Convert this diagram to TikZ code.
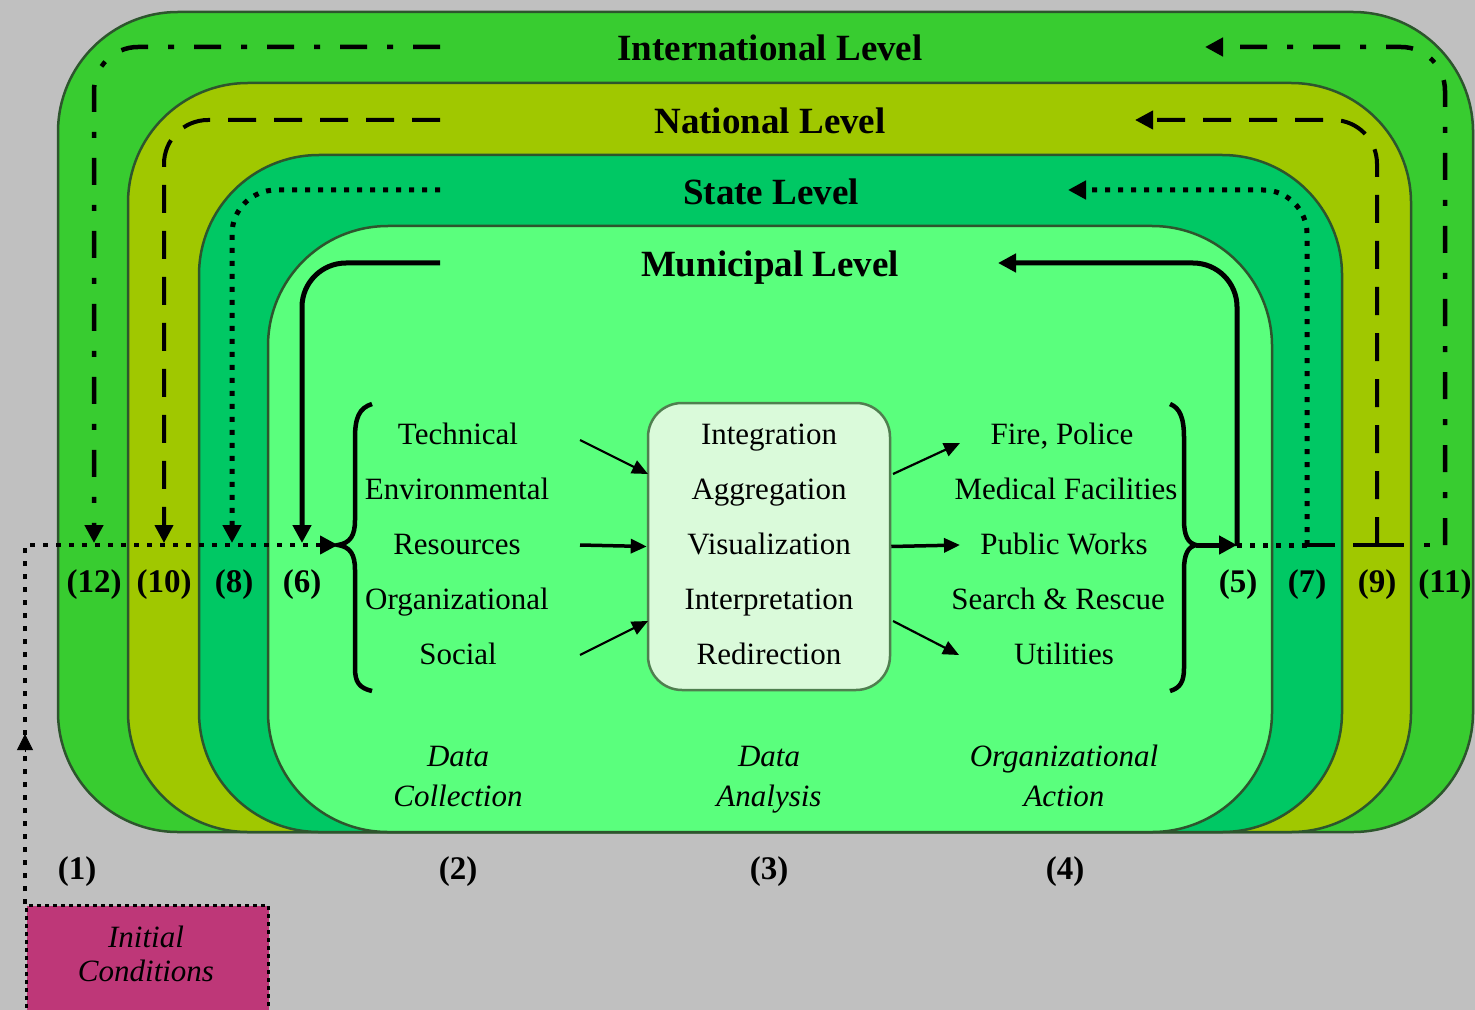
\documentclass[tikz,border=0pt]{standalone}
\usepackage{fontspec}
\setmainfont{Liberation Serif}
\usetikzlibrary{arrows.meta}
\definecolor{bg}{HTML}{C0C0C0}
\definecolor{intl}{HTML}{38CC30}
\definecolor{natl}{HTML}{A0C800}
\definecolor{stat}{HTML}{00C864}
\definecolor{muni}{HTML}{5AFF7D}
\definecolor{edgec}{HTML}{2D552D}
\definecolor{core}{HTML}{DAFADA}
\definecolor{coreedge}{HTML}{4F7F4F}
\definecolor{initc}{HTML}{BE3778}
\begin{document}
\begin{tikzpicture}[x=0.5pt,y=-0.5pt,
  level/.style={draw=edgec,line width=1.25pt,rounded corners=60pt},
  evenbox/.style={inner sep=0pt,text height=1.05em,text depth=0.1em},
  lvltext/.style={evenbox,font=\fontsize{18.5}{20}\selectfont\bfseries},
  item/.style={evenbox,font=\fontsize{15.5}{17}\selectfont},
  stage/.style={evenbox,font=\fontsize{15.5}{17}\selectfont\itshape},
  num/.style={evenbox,font=\fontsize{16.5}{18}\selectfont\bfseries},
  bigtip/.style={-{Triangle[length=9pt,width=9pt]}},
  smalltip/.style={-{Triangle[length=8pt,width=7pt]}},
  intline/.style={line width=2.25pt,dash pattern=on 13.5pt off 10pt on 3pt off 10pt},
  natline/.style={line width=2pt,dash pattern=on 14pt off 9pt},
  statline/.style={line width=2.5pt,dash pattern=on 2.5pt off 4pt},
  muniline/.style={line width=2.5pt},
  bracestyle/.style={line width=2.25pt},
  thinarrow/.style={line width=1.1pt,smalltip},
  midarrow/.style={line width=1.75pt,smalltip},
  loopcorner/.style={rounded corners=22pt}
]
\useasboundingbox (0,0) rectangle (1475,1010);
\fill[bg] (0,0) rectangle (1475,1010);

% nested levels
\filldraw[level,fill=intl] (58,12) rectangle (1473,832);
\filldraw[level,fill=natl] (128,83) rectangle (1411,832);
\filldraw[level,fill=stat] (199,155) rectangle (1342,832);
\filldraw[level,fill=muni] (268,226) rectangle (1272,832);

% level titles
\node[lvltext] (tInt) at (770,51) {International Level};
\node[lvltext] (tNat) at (770,124) {National Level};
\node[lvltext] (tSta) at (771,195) {State Level};
\node[lvltext] (tMun) at (770,267) {Municipal Level};

% core box
\node[draw=coreedge,line width=1.25pt,fill=core,rounded corners=17pt,
      minimum width=121pt,minimum height=143.5pt,inner sep=0pt] (core) at (769,546.5) {};
\node[item] (iInt) at (769,435) {Integration};
\node[item] (iAgg) at (769,490) {Aggregation};
\node[item] (iVis) at (769,545) {Visualization};
\node[item] (iInp) at (769,600) {Interpretation};
\node[item] (iRed) at (769,655) {Redirection};

% data collection items
\node[item] (cTec) at (458,435) {Technical};
\node[item] (cEnv) at (457,490) {Environmental};
\node[item] (cRes) at (457,545) {Resources};
\node[item] (cOrg) at (457,600) {Organizational};
\node[item] (cSoc) at (458,655) {Social};

% organizational action items
\node[item] (aFir) at (1062,435) {Fire, Police};
\node[item] (aMed) at (1066,490) {Medical Facilities};
\node[item] (aPub) at (1064,545) {Public Works};
\node[item] (aSea) at (1058,600) {Search \& Rescue};
\node[item] (aUti) at (1064,655) {Utilities};

% arrows into and out of core
\coordinate (inA) at (648,474);
\coordinate (inC) at (648,621);
\coordinate (outA) at (893,474);
\coordinate (outC) at (893,621);
\draw[thinarrow] (580,440) -- (inA);
\draw[midarrow] (580,545) -- (core.west);
\draw[thinarrow] (580,655) -- (inC);
\draw[thinarrow] (outA) -- (960,443);
\draw[midarrow] (core.east) -- (960,545);
\draw[thinarrow] (outC) -- (959,655);

% braces
\coordinate (lbTip) at (338,545);
\coordinate (rbTip) at (1196,545);
\draw[bracestyle] (372,404) .. controls (359,408) and (355,418) .. (355,438) -- (355,520)
  .. controls (355,536) and (350,543) .. (lbTip)
  .. controls (350,547) and (355,554) .. (355,570) -- (355,668)
  .. controls (355,682) and (359,688) .. (372,691);
\draw[bracestyle] (1170,404) .. controls (1180,408) and (1184,418) .. (1184,438) -- (1184,520)
  .. controls (1184,536) and (1188,543) .. (rbTip)
  .. controls (1188,547) and (1184,554) .. (1184,570) -- (1184,668)
  .. controls (1184,682) and (1180,688) .. (1170,691);

% stage labels
\node[stage] (sCol1) at (458,757) {Data};
\node[stage] (sCol2) at (458,797) {Collection};
\node[stage] (sAna1) at (769,757) {Data};
\node[stage] (sAna2) at (769,797) {Analysis};
\node[stage] (sAct1) at (1064,757) {Organizational};
\node[stage] (sAct2) at (1064,797) {Action};

% numbers
\node[num] (n1) at (77,870) {(1)};
\node[num] (n2) at (458,870) {(2)};
\node[num] (n3) at (769,870) {(3)};
\node[num] (n4) at (1065,870) {(4)};
\node[num] (n12) at (94,583) {(12)};
\node[num] (n10) at (164,583) {(10)};
\node[num] (n8) at (234,583) {(8)};
\node[num] (n6) at (302,583) {(6)};
\node[num] (n5) at (1238,583) {(5)};
\node[num] (n7) at (1307,583) {(7)};
\node[num] (n9) at (1377,583) {(9)};
\node[num] (n11) at (1445,583) {(11)};

% initial conditions
\node[draw,line width=1.5pt,dash pattern=on 2pt off 2pt,fill=initc,minimum width=121pt,
      minimum height=57pt,inner sep=0pt,anchor=north west] (init) at (25,904) {};
\node[stage] (initT1) at (146,938) {Initial};
\node[stage] (initT2) at (146,972) {Conditions};
\coordinate (corner) at (25,545);
\draw[line width=2pt,dash pattern=on 2.5pt off 4pt,bigtip] (init.north west) -- (corner) -- (lbTip);
\draw[-{Triangle[length=8pt,width=8pt]}] (25,752) -- (25,734);

% feedback loops, left side
\draw[intline,loopcorner,bigtip] (440,47) -- (94,47) -- (94,543);
\draw[natline,loopcorner,bigtip] (440,120) -- (164,120) -- (164,543);
\draw[statline,loopcorner,bigtip] (440,190) -- (232,190) -- (232,543);
\draw[muniline,loopcorner,bigtip] (440,263) -- (302,263) -- (302,543);

% feedback loops, right side
\coordinate (r5) at (1237,545);
\coordinate (r7) at (1307,545);
\coordinate (r9) at (1377,545);
\coordinate (r11) at (1445,545);
\draw[muniline,bigtip] (rbTip) -- (r5);
\draw[statline] (r5) -- (r7);
\draw[natline] (r7) -- (r9);
\draw[intline] (r9) -- (r11);
\draw[muniline,loopcorner,bigtip] (1237,546) -- (1237,263) -- (998,263);
\draw[statline,loopcorner,bigtip] (r7) -- (1307,190) -- (1068,190);
\draw[natline,loopcorner,bigtip] (r9) -- (1377,120) -- (1135,120);
\draw[intline,loopcorner,bigtip] (r11) -- (1445,47) -- (1205,47);
\end{tikzpicture}
\end{document}
